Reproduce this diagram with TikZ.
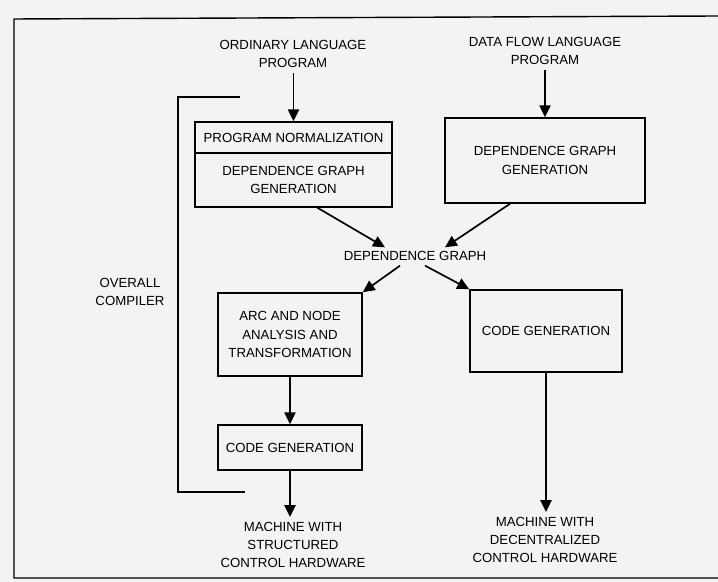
\documentclass[tikz,border=0pt]{standalone}
\usepackage{fontspec}
\setmainfont{Liberation Sans}
\usetikzlibrary{arrows.meta,calc}
\definecolor{paper}{RGB}{243,243,241}

\begin{document}
\begin{tikzpicture}[x=0.025cm,y=-0.025cm,
  every node/.style={font=\fontsize{9.4}{13}\selectfont, align=center},
  box/.style={draw, line width=1.1pt, inner sep=2pt},
  flow/.style={-{Triangle[length=8.5pt,width=8pt]}, line width=1.2pt}]

% 背景和外框
\fill[paper] (0,0) rectangle (718,582);
\useasboundingbox (0,0) rectangle (718,582);
\draw[line width=1pt] (718,16) -- (14,19) -- (14,578) -- (718,578);

% 输入
\node (ordprog) at (293,54) {ORDINARY LANGUAGE\\PROGRAM};
\node (dfprog) at (545,51) {DATA FLOW LANGUAGE\\PROGRAM};

% 第一层方框
\node[box, minimum width=4.925cm, minimum height=0.775cm] (pnorm) at (293.5,137.5) {PROGRAM NORMALIZATION};
\node[box, minimum width=4.925cm, minimum height=1.35cm] (dggenl) at (293.5,180) {DEPENDENCE GRAPH\\GENERATION};
\node[box, minimum width=5cm, minimum height=2.125cm] (dggenr) at (545,160.5) {DEPENDENCE GRAPH\\GENERATION};

% 中间
\node (depgraph) at (415,256) {DEPENDENCE GRAPH};

% 第二层方框
\node[box, minimum width=3.6cm, minimum height=2.075cm] (arcnode) at (290,334.5) {ARC AND NODE\\ANALYSIS AND\\TRANSFORMATION};
\node[box, minimum width=3.8cm, minimum height=2.05cm] (codegenr) at (546,331) {CODE GENERATION};
\node[box, minimum width=3.6cm, minimum height=1.125cm] (codegenl) at (290,447.5) {CODE GENERATION};

% 输出
\node (machstr) at (293,545) {MACHINE WITH\\STRUCTURED\\CONTROL HARDWARE};
\node (machdec) at (545,540) {MACHINE WITH\\DECENTRALIZED\\CONTROL HARDWARE};

% 编译器括号
\coordinate (brtop) at (240,97);
\coordinate (brbot) at (245,492);
\draw[line width=1.5pt] (brtop) -- (178,97) -- (178,492) -- (brbot);
\node (compiler) at (130,292) {OVERALL\\COMPILER};

% 箭头
\draw[flow] (ordprog.south -| pnorm.north) -- (pnorm.north);
\draw[flow] (dfprog.south) -- (dggenr.north);
\draw[flow] ($(dggenl.south)+(24,0)$) -- ($(depgraph.north)+(-30,1)$);
\draw[flow] ($(dggenr.south)+(-35,0)$) -- ($(depgraph.north)+(30,1)$);
\draw[flow] ($(depgraph.south)+(-15,0)$) -- (arcnode.north east);
\draw[flow] ($(depgraph.south)+(10,0)$) -- (codegenr.north west);
\draw[flow] (arcnode.south) -- (codegenl.south |- codegenl.north);
\draw[flow] (codegenl.south) -- (machstr.north -| codegenl.south);
\draw[flow] (codegenr.south) -- (machdec.north -| codegenr.south);

\end{tikzpicture}
\end{document}
